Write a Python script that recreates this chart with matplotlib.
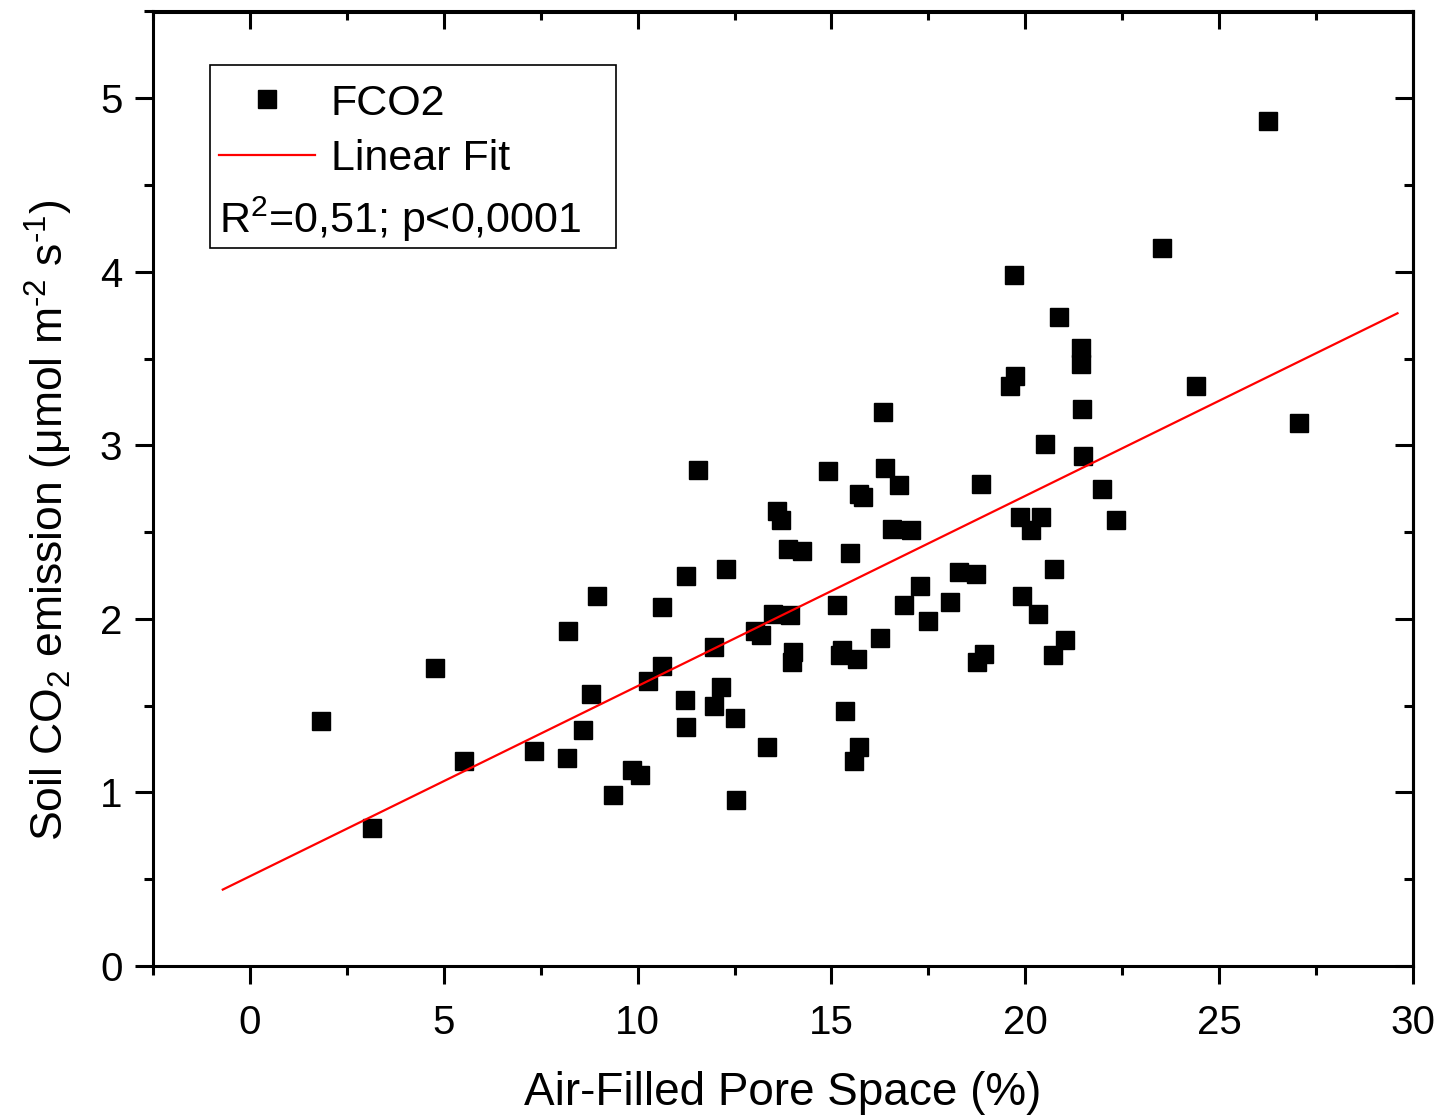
import matplotlib
matplotlib.use("Agg")
import matplotlib.pyplot as plt
from matplotlib.ticker import MultipleLocator
from matplotlib.patches import Rectangle
import numpy as np

plt.rcParams['font.family'] = ['Liberation Sans', 'DejaVu Sans']
plt.rcParams['mathtext.fontset'] = 'custom'
plt.rcParams['mathtext.rm'] = 'Liberation Sans'
plt.rcParams['mathtext.it'] = 'Liberation Sans:italic'
plt.rcParams['mathtext.default'] = 'regular'

# Air-filled pore space (%)
afps = [1.83, 3.14, 4.77, 5.52, 7.32, 8.17, 8.20, 8.58, 8.81, 8.94,
        9.36, 9.85, 10.05, 10.28, 10.64, 10.64, 11.21, 11.26, 11.24, 11.57,
        11.96, 11.98, 12.14, 12.27, 12.50, 12.55, 13.02, 13.17, 13.35, 13.50,
        13.60, 13.69, 13.87, 13.92, 14.00, 13.97, 14.25, 14.90, 15.15, 15.23,
        15.28, 15.34, 15.49, 15.57, 15.67, 15.70, 15.70, 15.82, 16.24, 16.34,
        16.37, 16.55, 16.75, 16.88, 17.04, 17.29, 17.50, 18.07, 18.30, 18.74,
        18.76, 18.87, 18.94, 19.61, 19.74, 19.72, 19.87, 19.92, 20.15, 20.34,
        20.41, 20.50, 20.72, 20.75, 20.88, 21.03, 21.44, 21.44, 21.47, 21.49,
        21.98, 22.35, 23.53, 24.41, 26.26, 27.06]
# Soil CO2 emission (umol m-2 s-1)
fco2 = [1.41, 0.795, 1.72, 1.18, 1.24, 1.20, 1.93, 1.36, 1.57, 2.13,
        0.985, 1.13, 1.10, 1.64, 2.07, 1.73, 1.53, 2.25, 1.38, 2.86,
        1.84, 1.50, 1.61, 2.29, 1.43, 0.956, 1.93, 1.91, 1.26, 2.03,
        2.62, 2.57, 2.40, 2.02, 1.81, 1.75, 2.39, 2.85, 2.08, 1.79,
        1.82, 1.47, 2.38, 1.18, 1.77, 1.26, 2.72, 2.70, 1.89, 3.19,
        2.87, 2.52, 2.77, 2.08, 2.51, 2.19, 1.99, 2.10, 2.27, 2.26,
        1.75, 2.78, 1.80, 3.34, 3.40, 3.98, 2.59, 2.13, 2.51, 2.03,
        2.59, 3.01, 1.79, 2.29, 3.74, 1.88, 3.56, 3.47, 3.21, 2.94,
        2.75, 2.57, 4.14, 3.34, 4.87, 3.13]

# Linear fit as drawn: intercept, slope, x range
fit_intercept = 0.517
fit_slope = 0.1096
fit_xrange = [-0.70, 29.6]

x_ticks = [0, 5, 10, 15, 20, 25, 30]
y_ticks = [0, 1, 2, 3, 4, 5]

W, H = 1443, 1117
ax_top, ax_bot = 11.5, 966
fig = plt.figure(figsize=(W / 100, H / 100), dpi=100)
ax = fig.add_axes([153 / W, 1 - ax_bot / H, 1260 / W, (ax_bot - ax_top) / H])
axh = ax_bot - ax_top

ax.plot(afps, fco2, linestyle='none', marker='s', markersize=13,
        color='black', label='FCO2', zorder=3)
fx = np.array(fit_xrange)
ax.plot(fx, fit_intercept + fit_slope * fx, color='red', linewidth=1.6,
        label='Linear Fit', zorder=4)

ax.set_xlim(-2.5, 30)
ax.set_ylim(0, 5.5)
ax.set_xticks(x_ticks)
ax.set_yticks(y_ticks)
ax.xaxis.set_minor_locator(MultipleLocator(2.5))
ax.yaxis.set_minor_locator(MultipleLocator(0.5))

lw = 2.2
for s in ax.spines.values():
    s.set_linewidth(lw)
ax.tick_params(which='major', direction='out', length=13, width=lw,
               labelsize=29)
ax.tick_params(which='minor', direction='out', length=6.5, width=lw)
ax.tick_params(axis='x', which='major', pad=14)
ax.tick_params(axis='y', which='major', pad=9)

secx = ax.secondary_xaxis('top')
secx.set_xticks(x_ticks)
secx.xaxis.set_minor_locator(MultipleLocator(2.5))
secx.tick_params(which='major', direction='in', length=13, width=lw, labeltop=False)
secx.tick_params(which='minor', direction='in', length=6.5, width=lw)
secx.spines['top'].set_linewidth(lw)

secy = ax.secondary_yaxis('right')
secy.set_yticks(y_ticks)
secy.yaxis.set_minor_locator(MultipleLocator(0.5))
secy.tick_params(which='major', direction='in', length=13, width=lw, labelright=False)
secy.tick_params(which='minor', direction='in', length=6.5, width=lw)
secy.spines['right'].set_linewidth(lw)

ax.set_xlabel('Air-Filled Pore Space (%)', fontsize=33, labelpad=21)
ax.set_ylabel('Soil CO$_2$ emission (\u03bcmol m$^{\u2010 2}$ s$^{\u2010 1}$)', fontsize=32)
ax.yaxis.set_label_coords(-0.062, (ax_bot - 520) / axh)

# legend box (pixel positions of the reference converted to axes fractions)
def fy(py):
    return (ax_bot - py) / axh

bx0, bx1 = (210 - 153) / 1260, (616 - 153) / 1260
box = Rectangle((bx0, fy(248)), bx1 - bx0, fy(65) - fy(248),
                transform=ax.transAxes, fill=False, edgecolor='black',
                linewidth=1.2, zorder=5)
ax.add_patch(box)
leg = ax.legend(loc='upper left', bbox_to_anchor=(bx0 - 0.0079, fy(65)),
                frameon=False, fontsize=31, handlelength=2.25,
                handletextpad=0.35, labelspacing=0.36, borderpad=0.43,
                borderaxespad=0, markerscale=1.0)
ax.text((219 - 153) / 1260, fy(233), 'R$^2$=0,51; p<0,0001', transform=ax.transAxes,
        fontsize=31, va='baseline', ha='left')

fig.savefig('out.png', dpi=100)
